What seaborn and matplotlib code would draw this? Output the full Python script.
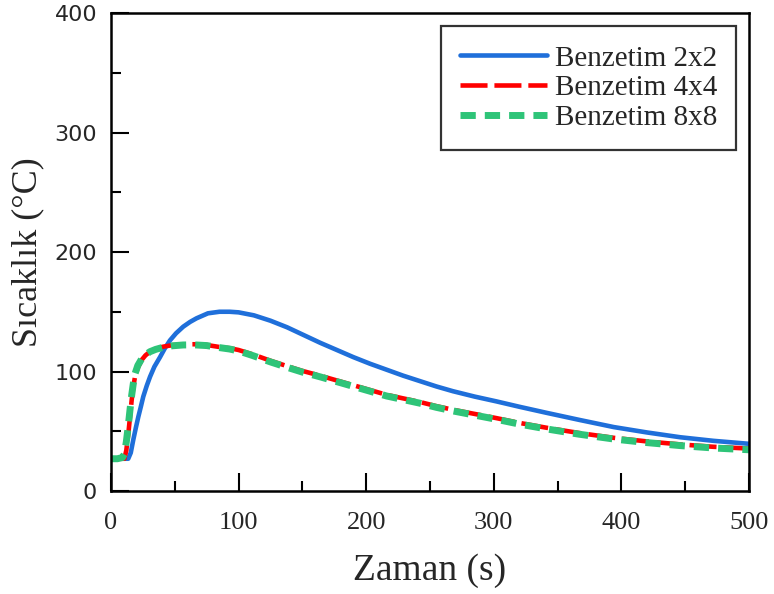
"""Temperature vs. time for three mesh sizes."""

import matplotlib
matplotlib.use("Agg")
import matplotlib.pyplot as plt
import pandas as pd
import seaborn as sns
from matplotlib.ticker import MultipleLocator

# time (s) and temperature (°C)
time_2x2 = [0, 5, 10, 13.5, 15.5, 17.5, 19.5, 21.4, 23.5, 25.3, 28, 30.6, 34, 38.4,
            42, 46.2, 51, 56.6, 62, 67, 76, 85, 93, 100, 112, 125, 138, 150, 164,
            177, 190, 203, 216, 229, 242, 255, 268, 285, 302, 320, 341, 367, 394,
            420, 446, 472, 500]
temp_2x2 = [27, 27, 27, 27, 32, 43, 53, 62, 71, 79, 88, 95.6, 104, 112,
            119, 126, 132, 137.5, 141.5, 144.5, 148.7, 150, 150, 149.5, 147, 142.5,
            137, 131, 124, 118, 112, 106.5, 101.5, 96.5, 92, 87.5, 83.5, 79, 75,
            70.5, 65.5, 59.5, 53.5, 49, 45, 42, 39.5]

time_4x4 = [0, 5, 9, 10.5, 12, 13.6, 14.9, 16.2, 17.5, 18.8, 21, 24, 27, 30.6, 35,
            41, 48, 56.6, 65, 75, 85, 93, 100, 112, 125, 138, 150, 164, 177, 190,
            203, 216, 229, 242, 255, 268, 285, 302, 320, 341, 367, 394, 420, 446,
            472, 500]
temp_4x4 = [27, 27, 27, 27, 34, 48, 62, 76, 87, 95.6, 103, 109.6, 113.5, 116.6, 119,
            120.8, 122, 122.7, 122.8, 122.2, 120.5, 119.5, 118, 114, 109, 104.5,
            100.5, 96.5, 92.5, 88.5, 84.5, 80.5, 77.5, 74.5, 71, 68, 64.5, 61, 57,
            53, 48.5, 44.5, 41.5, 39, 37, 35.5]
temp_8x8 = [27, 27, 28, 31, 41, 55, 68, 80, 90, 98, 105, 110.5, 114, 116.6, 118.5,
            120.3, 121.5, 122.2, 122.3, 121.7, 120, 118.8, 117.2, 113, 108, 103.5,
            99.5, 95.5, 91.5, 87.5, 83.5, 79.5, 76.5, 73.5, 70, 67, 63.5, 60, 56,
            52, 47.5, 43.5, 40.5, 38, 36, 34.5]

labels = ["Benzetim 2x2", "Benzetim 4x4", "Benzetim 8x8"]
x_ticks = [0, 100, 200, 300, 400, 500]
y_ticks = [0, 100, 200, 300, 400]
y_tick_labels = ["0", "100", "200", "300", "400"]

df_2x2 = pd.DataFrame({"t": time_2x2, "T": temp_2x2})
df_4x4 = pd.DataFrame({"t": time_4x4, "T": temp_4x4})
df_8x8 = pd.DataFrame({"t": time_4x4, "T": temp_8x8})

sns.set_style("ticks")
plt.rcParams["font.family"] = ["Liberation Serif", "DejaVu Serif"]

fig, ax = plt.subplots(figsize=(7.74, 5.94), dpi=100)
fig.subplots_adjust(left=0.1434, right=0.9677, bottom=0.1734, top=0.9781)

sns.lineplot(data=df_2x2, x="t", y="T", ax=ax, color="#1f6fda", lw=3.3,
             label=labels[0], estimator=None, sort=False)
sns.lineplot(data=df_4x4, x="t", y="T", ax=ax, color="#ff0000", lw=3.3,
             linestyle=(0, (5.9, 1.5)), label=labels[1], estimator=None, sort=False)
sns.lineplot(data=df_8x8, x="t", y="T", ax=ax, color="#2ec478", lw=5,
             linestyle=(0, (2.2, 1.3)), label=labels[2], estimator=None, sort=False)

ax.set_xlim(0, 500)
ax.set_ylim(0, 400)
ax.set_xticks(x_ticks)
ax.set_yticks(y_ticks, labels=y_tick_labels, fontfamily="DejaVu Sans")
ax.xaxis.set_minor_locator(MultipleLocator(50))
ax.yaxis.set_minor_locator(MultipleLocator(50))

for s in ax.spines.values():
    s.set_visible(True)
    s.set_linewidth(1.8)
    s.set_color("black")

ax.tick_params(which="major", direction="in", length=13, width=1.5, color="black")
ax.tick_params(which="minor", direction="in", length=7, width=1.5, color="black")
ax.tick_params(axis="y", which="major", pad=10, labelsize=16)
ax.tick_params(axis="x", which="major", pad=15, labelsize=19)

ax.set_xlabel("Zaman (s)", fontsize=27, labelpad=14)
ax.set_ylabel("Sıcaklık (°C)", fontsize=26, labelpad=7)

leg = ax.legend(loc="upper right", fontsize=21, frameon=True, fancybox=False,
                handlelength=3.0, handletextpad=0.25, labelspacing=0.12,
                borderpad=0.65, borderaxespad=0.45)
leg.get_frame().set_edgecolor("black")
leg.get_frame().set_linewidth(1.6)

fig.savefig("out.png", dpi=100)
